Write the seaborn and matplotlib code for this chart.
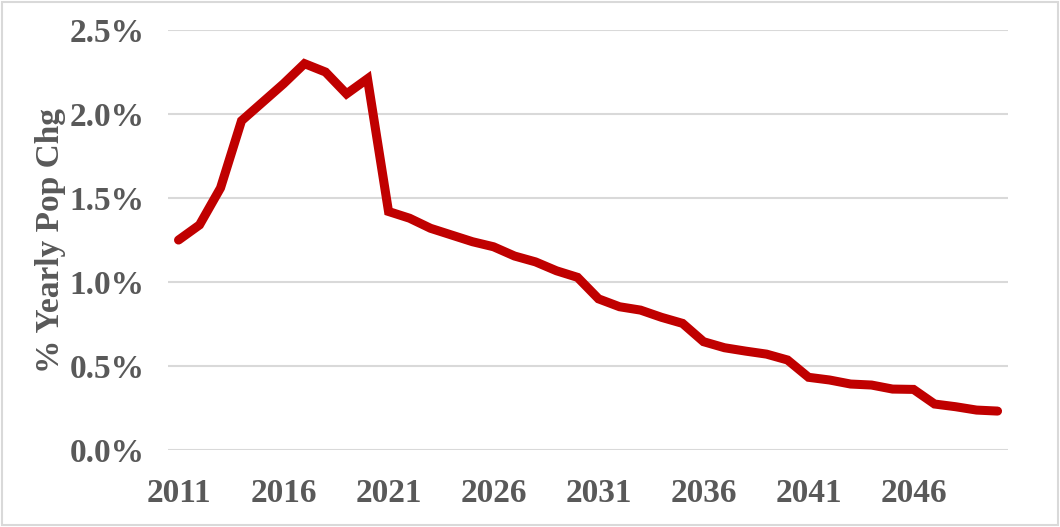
import numpy as np
import pandas as pd
import matplotlib.pyplot as plt
import seaborn as sns

# yearly population change, percent
years = list(range(2011, 2051))
pop_chg = [1.25, 1.34, 1.56, 1.96, 2.07, 2.18, 2.30, 2.25, 2.12, 2.21,
           1.42, 1.38, 1.32, 1.28, 1.24, 1.21, 1.155, 1.12, 1.067, 1.028,
           0.90, 0.853, 0.833, 0.79, 0.754, 0.645, 0.609, 0.589, 0.571, 0.536,
           0.433, 0.417, 0.393, 0.387, 0.363, 0.361, 0.274, 0.258, 0.238, 0.232]
tick_years = [2011, 2016, 2021, 2026, 2031, 2036, 2041, 2046]
y_ticks = [0.0, 0.5, 1.0, 1.5, 2.0, 2.5]

df = pd.DataFrame({'Year': years, 'Chg': pop_chg})

sns.set_style('white')
plt.rcParams['font.family'] = ['Liberation Serif', 'DejaVu Serif']

fig = plt.figure(figsize=(10.6, 5.27), dpi=100)
ax = fig.add_axes([0.1585, 0.146, 0.7925, 0.797])

sns.lineplot(x='Year', y='Chg', data=df, ax=ax, color='#C00000', linewidth=6.5,
             solid_capstyle='round', solid_joinstyle='miter')

ax.set_xlim(2010.5, 2050.5)
ax.set_ylim(0, 2.5)
ax.set_yticks(y_ticks)
ax.set_yticklabels([f'{v:.1f}%' for v in y_ticks])
ax.set_xticks(tick_years)
ax.set_xticklabels([str(y) for y in tick_years])
ax.grid(axis='y', color='#d9d9d9', linewidth=1.5)
ax.set_axisbelow(True)
for s in ax.spines.values():
    s.set_visible(False)
ax.tick_params(length=0, labelsize=24, labelcolor='#595959')
ax.tick_params(axis='x', pad=20)
ax.tick_params(axis='y', pad=17)
for lbl in ax.get_xticklabels() + ax.get_yticklabels():
    lbl.set_fontweight('bold')

ax.set_xlabel('')
ax.set_ylabel('% Yearly Pop Chg', fontsize=24, fontweight='bold', color='#595959')
ax.yaxis.set_label_coords(-0.121, 0.5)

# chart border
fig.patches.append(plt.Rectangle((0.002, 0.003), 0.996, 0.994, transform=fig.transFigure,
                                 fill=False, edgecolor='#d9d9d9', linewidth=1.5))

fig.savefig('out.png', dpi=100)
